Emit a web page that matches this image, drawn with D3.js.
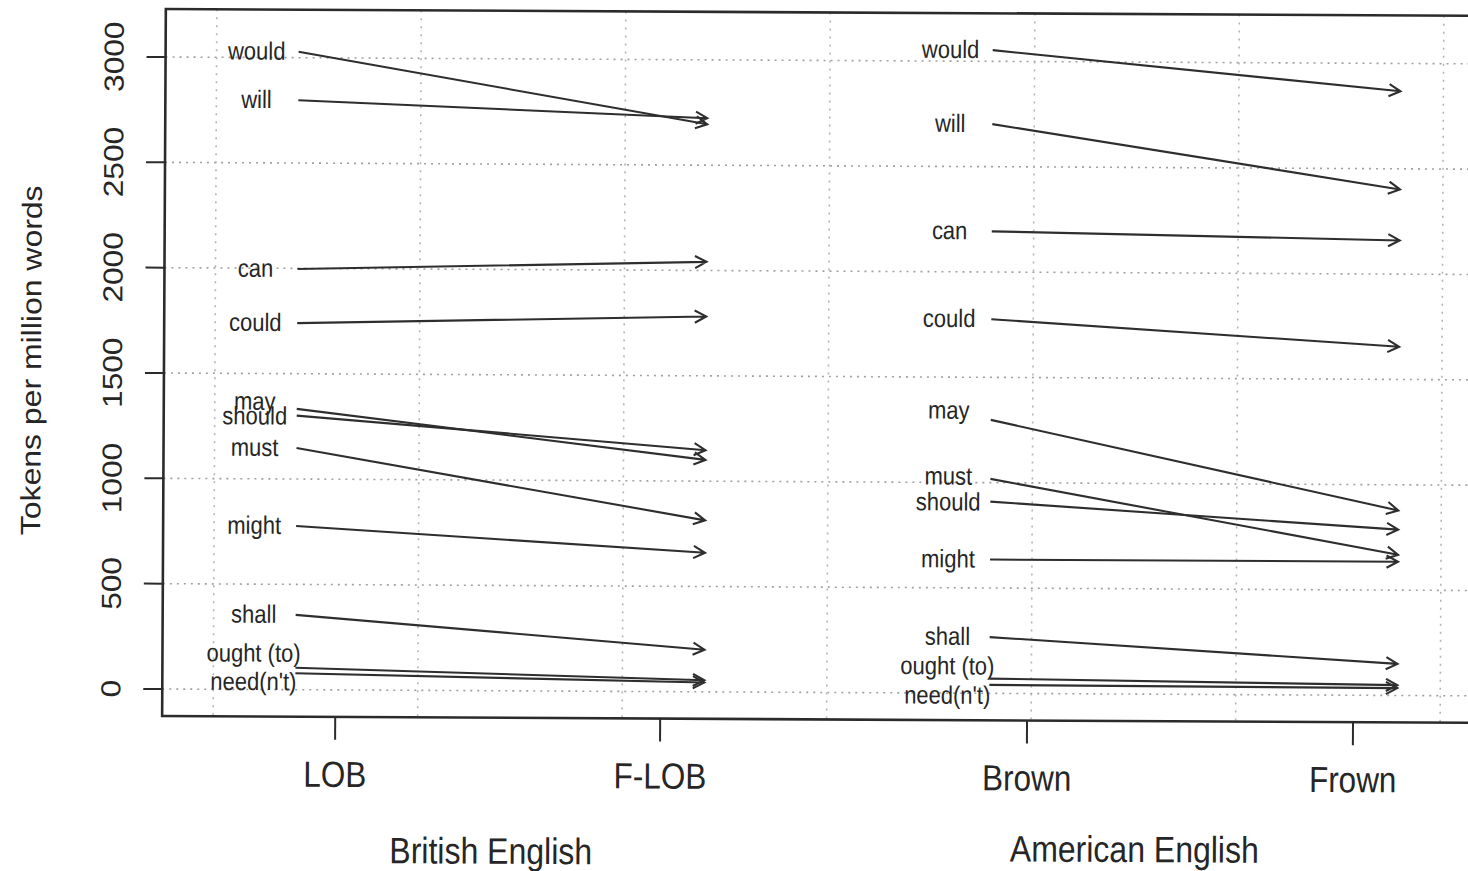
<!DOCTYPE html>
<html>
<head>
<meta charset="utf-8">
<script src="https://cdn.jsdelivr.net/npm/d3@7"></script>
<style>
  body { margin: 0; background: #fff; }
  text { font-family: "Liberation Sans", Arial, sans-serif; fill: #262626; }
</style>
</head>
<body>
<div id="chart-area"></div>
<script>
// modal verbs, tokens per million words
const modals = ["would", "will", "can", "could", "may", "should", "must", "might", "shall", "ought (to)", "need(n't)"]
const lob   = [3028, 2798, 1997, 1740, 1333, 1301, 1147, 777, 355, 104, 78]
const flob  = [2694, 2723, 2041, 1782, 1101, 1147, 814, 660, 200, 55, 44]
const brown = [3053, 2702, 2193, 1776, 1298, 910, 1018, 635, 267, 70, 40]
const frown = [2868, 2402, 2160, 1655, 878, 787, 668, 635, 150, 49, 35]

const corpora = ["LOB", "F-LOB", "Brown", "Frown"]
const varieties = ["British English", "American English"]
const yTicks = [0, 500, 1000, 1500, 2000, 2500, 3000]

const W = 1468, H = 871
const stretch = 1.15   // the scan is a bit taller than wide

const svg = d3.select("#chart-area").append("svg")
	.attr("width", W)
	.attr("height", H)

// whole plot slightly tilted, like the scanned page
const g = svg.append("g").attr("transform", "rotate(0.3, 164, 360)")

// grid units: vertical grid lines sit on the integers
const x = d3.scaleLinear().domain([0, 6]).range([215, 1442])
const y = d3.scaleLinear().domain([0, 3000]).range([689, 57])

const frame = { left: 164, right: 1485, top: y(3228), bottom: y(-128) }

// layout in grid units, plus label nudges (px) where labels crowd
const corpusX = [0.597, 2.186, 3.98, 3.98 + 1.594]
const groups = [
	{ from: lob, to: flob, x0: 0.401, x1: 2.401, lx: 0.196, tx: 1.361, ty: 862,
	  nudge: { "may": -7, "should": 1, "ought (to)": -14, "need(n't)": 9 } },
	{ from: brown, to: frown, x0: 3.795, x1: 5.79, lx: 3.589, tx: 4.508, ty: 857,
	  nudge: { "may": -9, "must": -2, "should": 1, "ought (to)": -12, "need(n't)": 11 } }
]

function txt(sel, px, py, s, size, rot) {
	const t = sel.append("text")
		.attr("text-anchor", "middle")
		.style("font-size", size + "px")
		.text(s)
	if (rot) t.attr("transform", `translate(${px},${py}) rotate(${rot}) scale(${stretch},1)`)
	else t.attr("transform", `translate(${px},${py}) scale(1,${stretch})`)
	return t
}

// grid
g.selectAll(".hgrid").data(yTicks).enter().append("line")
	.attr("x1", frame.left).attr("x2", frame.right)
	.attr("y1", d => y(d)).attr("y2", d => y(d))
	.attr("stroke", "#a0a0a0").attr("stroke-width", 1.6)
	.attr("stroke-dasharray", "2,5")

g.selectAll(".vgrid").data(d3.range(0, 7)).enter().append("line")
	.attr("x1", d => x(d)).attr("x2", d => x(d))
	.attr("y1", frame.top).attr("y2", frame.bottom)
	.attr("stroke", "#b4b4b4").attr("stroke-width", 1.6)
	.attr("stroke-dasharray", "2,6")

// frame
g.append("rect")
	.attr("x", frame.left).attr("y", frame.top)
	.attr("width", frame.right - frame.left).attr("height", frame.bottom - frame.top)
	.attr("fill", "none").attr("stroke", "#2b2b2b").attr("stroke-width", 2.6)

// y axis
g.selectAll(".ytick").data(yTicks).enter().append("line")
	.attr("x1", frame.left - 19).attr("x2", frame.left)
	.attr("y1", d => y(d)).attr("y2", d => y(d))
	.attr("stroke", "#2b2b2b").attr("stroke-width", 2)
yTicks.forEach(d => txt(g, 122, y(d), d, 27.5, -90))
txt(g, 41, 361, "Tokens per million words", 27.8, -90)

// x axis
g.selectAll(".xtick").data(corpusX).enter().append("line")
	.attr("x1", d => x(d)).attr("x2", d => x(d))
	.attr("y1", frame.bottom).attr("y2", frame.bottom + 23)
	.attr("stroke", "#2b2b2b").attr("stroke-width", 2)
corpora.forEach((c, i) => txt(g, x(corpusX[i]), 786, c, 31.5))
varieties.forEach((v, i) => txt(g, x(groups[i].tx), groups[i].ty, v, 32))

// arrows
const head = 13, ang = 28 * Math.PI / 180
groups.forEach(gr => {
	modals.forEach((m, i) => {
		const xa = x(gr.x0), ya = y(gr.from[i])
		const xb = x(gr.x1), yb = y(gr.to[i])
		const a = Math.atan2(yb - ya, xb - xa)
		const path = d3.path()
		path.moveTo(xa, ya)
		path.lineTo(xb, yb)
		path.moveTo(xb - head * Math.cos(a - ang), yb - head * Math.sin(a - ang))
		path.lineTo(xb, yb)
		path.lineTo(xb - head * Math.cos(a + ang), yb - head * Math.sin(a + ang))
		g.append("path")
			.attr("d", path.toString())
			.attr("fill", "none")
			.attr("stroke", "#2e2e2e")
			.attr("stroke-width", 2.1)
		txt(g, x(gr.lx), ya + 8 + (gr.nudge[m] || 0), m, 22)
	})
})
</script>
</body>
</html>
